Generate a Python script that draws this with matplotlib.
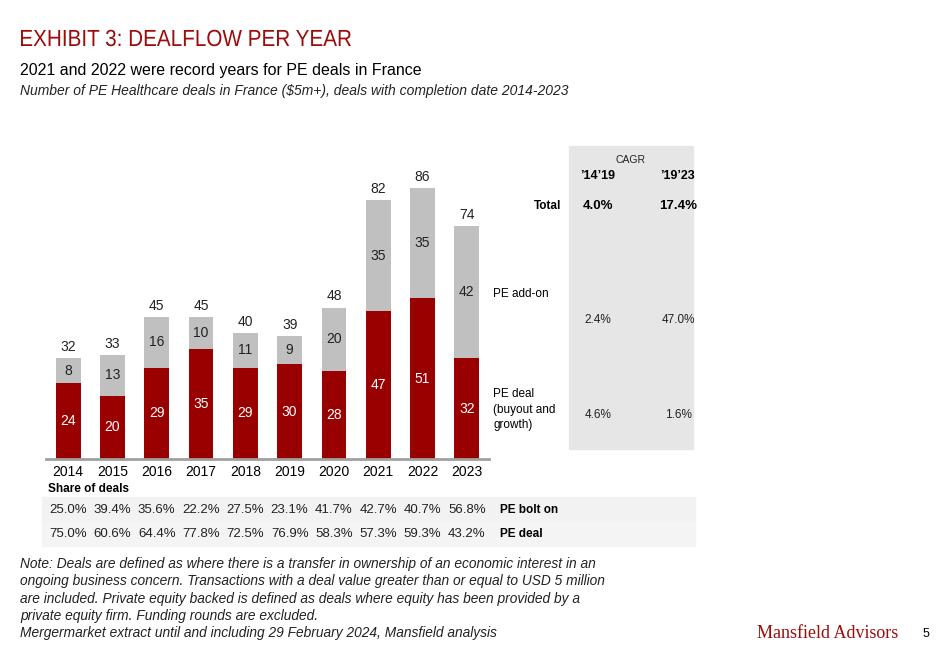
import matplotlib.pyplot as plt
from matplotlib.patches import Rectangle, PathPatch
from matplotlib.textpath import TextPath
from matplotlib.font_manager import FontProperties
from matplotlib.transforms import Affine2D

years = ['2014', '2015', '2016', '2017', '2018', '2019', '2020', '2021', '2022', '2023']
pe_deal = [24, 20, 29, 35, 29, 30, 28, 47, 51, 32]
pe_addon = [8, 13, 16, 10, 11, 9, 20, 35, 35, 42]
share_bolt_on = ['25.0%', '39.4%', '35.6%', '22.2%', '27.5%', '23.1%', '41.7%', '42.7%', '40.7%', '56.8%']
share_pe_deal = ['75.0%', '60.6%', '64.4%', '77.8%', '72.5%', '76.9%', '58.3%', '57.3%', '59.3%', '43.2%']
cagr_periods = ['\u201914\u201919', '\u201919\u201923']
cagr_total = ['4.0%', '17.4%']
cagr_addon = ['2.4%', '47.0%']
cagr_deal = ['4.6%', '1.6%']

RED = '#990000'
GREY = '#c0c0c0'
DARK = '#222222'
W, H = 940, 651

plt.rcParams['font.family'] = ['Liberation Sans', 'DejaVu Sans']
fig = plt.figure(figsize=(W / 100, H / 100), dpi=100)


def fx(px):
    return px / W


def fy(py):
    return 1 - py / H


def txt(x, y, s, **kw):
    fig.text(fx(x), fy(y), s, **kw)


def box(x0, y0, x1, y1, color):
    fig.patches.append(Rectangle((fx(x0), fy(y1)), fx(x1) - fx(x0), fy(y0) - fy(y1),
                                 transform=fig.transFigure, color=color, zorder=0))


# Title: condensed look, squeeze the glyph outlines to the reference width
title = 'EXHIBIT 3: DEALFLOW PER YEAR'
tp = TextPath((0, 0), title, size=23.3, prop=FontProperties(family='Liberation Sans'))
ext = tp.get_extents()
sx = 330 / ext.width
fig.add_artist(PathPatch(tp, transform=Affine2D().translate(-ext.x0, 0).scale(sx, 1).translate(21, H - 46),
                         color='#9b0d0d', lw=0))

txt(20, 70, '2021 and 2022 were record years for PE deals in France', fontsize=11.5, va='center')
txt(20, 91, 'Number of PE Healthcare deals in France ($5m+), deals with completion date 2014-2023',
    fontsize=10, style='italic', va='center', color=DARK)

# Background panels
box(569, 146, 693, 449, '#e6e6e6')
box(42, 497, 695, 521, '#f2f2f2')
box(42, 522, 695, 546, '#f4f4f4')

# Bar chart
ax = fig.add_axes([fx(46), fy(459), fx(489) - fx(46), fy(150) - fy(459)])
ax.set_facecolor('none')
x = list(range(len(years)))
ax.bar(x, pe_deal, width=0.56, color=RED)
ax.bar(x, pe_addon, width=0.56, bottom=pe_deal, color=GREY)
for i in x:
    ax.text(i, pe_deal[i] / 2, str(pe_deal[i]), ha='center', va='center', color='white', fontsize=10)
    ax.text(i, pe_deal[i] + pe_addon[i] / 2, str(pe_addon[i]), ha='center', va='center',
            color=DARK, fontsize=10)
    total = pe_deal[i] + pe_addon[i]
    ax.annotate(str(total), (i, total), xytext=(0, 3), textcoords='offset points',
                ha='center', va='bottom', color=DARK, fontsize=10)
ax.set_xlim(-0.5, 9.5)
ax.set_ylim(0, 98)
ax.set_xticks(x)
ax.set_xticklabels(years, fontsize=10)
ax.tick_params(axis='x', length=0, pad=4)
ax.set_yticks([])
for s in ['top', 'left', 'right']:
    ax.spines[s].set_visible(False)
ax.spines['bottom'].set_color('#a0a0a0')
ax.spines['bottom'].set_linewidth(2)

# Share of deals
txt(48, 489, 'Share of deals', fontsize=8.5, weight='bold', va='center')
for i in x:
    cx = ax.transData.transform((i, 0))[0]
    txt(cx, 510, share_bolt_on[i], fontsize=9.5, ha='center', va='center', color=DARK)
    txt(cx, 534, share_pe_deal[i], fontsize=9.5, ha='center', va='center', color=DARK)
txt(500, 510, 'PE bolt on', fontsize=8.5, weight='bold', va='center')
txt(500, 534, 'PE deal', fontsize=8.5, weight='bold', va='center')

# CAGR panel
col_x = [598, 678]
txt(631, 160, 'CAGR', fontsize=7.5, ha='center', va='center', color=DARK)
for j in range(2):
    txt(col_x[j], 176, cagr_periods[j], fontsize=9, weight='bold', ha='center', va='center')
    txt(col_x[j], 206, cagr_total[j], fontsize=9.5, weight='bold', ha='center', va='center')
    txt(col_x[j], 320, cagr_addon[j], fontsize=8.5, ha='center', va='center', color=DARK)
    txt(col_x[j], 415, cagr_deal[j], fontsize=8.5, ha='center', va='center', color=DARK)
txt(561, 206, 'Total', fontsize=8.5, weight='bold', ha='right', va='center')
txt(493, 294, 'PE add-on', fontsize=8.5, va='center')
for k, line in enumerate(['PE deal', '(buyout and', 'growth)']):
    txt(493, 394 + 15.5 * k, line, fontsize=8.5, va='center')

# Notes
notes = ['Note: Deals are defined as where there is a transfer in ownership of an economic interest in an',
         'ongoing business concern. Transactions with a deal value greater than or equal to USD 5 million',
         'are included. Private equity backed is defined as deals where equity has been provided by a',
         'private equity firm. Funding rounds are excluded.',
         'Mergermarket extract until and including 29 February 2024, Mansfield analysis']
for k, line in enumerate(notes):
    txt(20, 564 + 17.3 * k, line, fontsize=9.9, style='italic', va='center', color=DARK)

txt(898, 634, 'Mansfield Advisors', fontsize=13, family='Liberation Serif', color='#9b0d0d',
    ha='right', va='center')
txt(923, 634, '5', fontsize=9, va='center')

fig.savefig('out.png', dpi=100)
